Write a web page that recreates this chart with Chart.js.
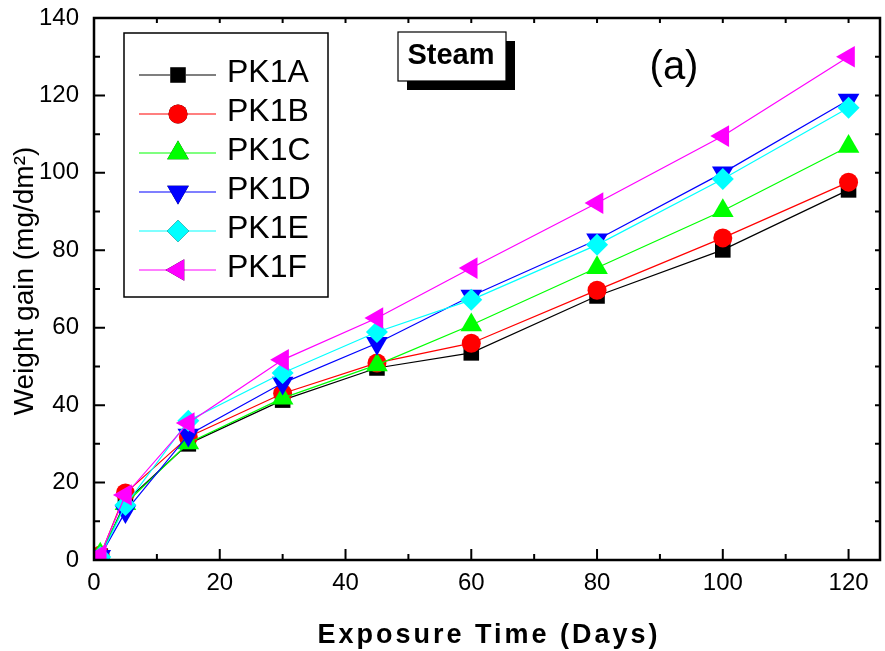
<!DOCTYPE html>
<html>
<head>
<meta charset="utf-8">
<script src="https://cdn.jsdelivr.net/npm/chart.js@4.4.1/dist/chart.umd.min.js"></script>
<style>
  html, body { margin: 0; padding: 0; background: #fff; }
  #wrap { width: 885px; height: 651px; }
</style>
</head>
<body>
<div id="wrap"><canvas id="weightChart" width="885" height="651"></canvas></div>
<script>
// exposure time in days
const days = [1, 5, 15, 30, 45, 60, 80, 100, 120];

// weight gain (mg/dm2) per sample
const pk1a = [1.0, 15.0, 30.0, 41.3, 49.6, 53.5, 68.2, 80.1, 95.6];
const pk1b = [1.2, 17.3, 31.8, 43.0, 50.9, 56.0, 69.7, 83.2, 97.6];
const pk1c = [1.5, 14.5, 30.2, 41.8, 50.4, 60.7, 75.5, 90.2, 106.8];
const pk1d = [1.0, 12.5, 32.3, 45.7, 56.0, 68.2, 82.7, 100.0, 118.8];
const pk1e = [0.8, 14.2, 36.0, 48.3, 58.9, 67.2, 81.4, 98.4, 116.8];
const pk1f = [1.3, 16.8, 35.4, 51.7, 62.5, 75.4, 92.2, 109.5, 130.0];

const seriesNames = ['PK1A', 'PK1B', 'PK1C', 'PK1D', 'PK1E', 'PK1F'];
const seriesValues = [pk1a, pk1b, pk1c, pk1d, pk1e, pk1f];
const seriesColors = ['#000000', '#ff0000', '#00ff00', '#0000ff', '#00ffff', '#ff00ff'];
const seriesShapes = ['rect', 'circle', 'triangle', 'triangle', 'rectRot', 'triangle'];
const seriesRotation = [0, 0, 0, 180, 0, -90];
const seriesRadius = [11, 9.5, 12.5, 12.5, 11, 12.5];

const xTicks = [0, 20, 40, 60, 80, 100, 120];
const yTicks = [0, 20, 40, 60, 80, 100, 120, 140];

const FONT = "'Liberation Sans', Arial, sans-serif";

const datasets = seriesNames.map((name, i) => ({
    label: name,
    data: days.map((d, j) => ({ x: d, y: seriesValues[i][j] })),
    borderColor: seriesColors[i],
    backgroundColor: seriesColors[i],
    borderWidth: 1.2,
    pointStyle: seriesShapes[i],
    rotation: seriesRotation[i],
    pointRadius: seriesRadius[i],
    pointBorderWidth: 0,
    tension: 0,
    order: 6 - i   // later series drawn on top
}));

// frame with inward ticks (major + minor), legend and labels
const framePlugin = {
    id: 'frame',
    afterDatasetsDraw(chart) {
        const ctx = chart.ctx;
        const a = chart.chartArea;
        const xs = chart.scales.x;
        const ys = chart.scales.y;
        ctx.save();
        ctx.strokeStyle = '#000';
        ctx.lineWidth = 2.5;
        ctx.strokeRect(a.left, a.top, a.right - a.left, a.bottom - a.top);

        ctx.lineWidth = 2;
        ctx.beginPath();
        for (let v = 0; v <= 120; v += 10) {
            const px = xs.getPixelForValue(v);
            const len = v % 20 === 0 ? 11 : 6;
            ctx.moveTo(px, a.bottom);
            ctx.lineTo(px, a.bottom - len);
            if (v > 0) {
                ctx.moveTo(px, a.top);
                ctx.lineTo(px, a.top + 5);
            }
        }
        for (let v = 0; v <= 140; v += 10) {
            const py = ys.getPixelForValue(v);
            const len = v % 20 === 0 ? 11 : 6;
            ctx.moveTo(a.left, py);
            ctx.lineTo(a.left + len, py);
            if (v > 0 && v < 140) {
                ctx.moveTo(a.right, py);
                ctx.lineTo(a.right - 5, py);
            }
        }
        ctx.stroke();
        ctx.restore();
    },
    afterDraw(chart) {
        const ctx = chart.ctx;
        ctx.save();

        // legend box
        const bx = 124, by = 33, bw = 204, bh = 264;
        ctx.fillStyle = '#fff';
        ctx.fillRect(bx, by, bw, bh);
        ctx.strokeStyle = '#000';
        ctx.lineWidth = 1.5;
        ctx.strokeRect(bx, by, bw, bh);

        chart.data.datasets.forEach((ds, i) => {
            const y = 75 + i * 39;
            ctx.strokeStyle = ds.borderColor;
            ctx.lineWidth = 1.2;
            ctx.beginPath();
            ctx.moveTo(139, y);
            ctx.lineTo(216, y);
            ctx.stroke();
            Chart.helpers.drawPoint(ctx, {
                pointStyle: ds.pointStyle,
                rotation: ds.rotation,
                radius: ds.pointRadius,
                borderWidth: 0
            }, 178, y);
            ctx.fillStyle = ds.backgroundColor;
            ctx.fill();
            ctx.fillStyle = '#000';
            ctx.font = '32px ' + FONT;
            ctx.textAlign = 'left';
            ctx.textBaseline = 'middle';
            ctx.fillText(ds.label, 227, y - 2);
        });

        // "Steam" label with drop shadow
        ctx.fillStyle = '#000';
        ctx.fillRect(407, 41, 108, 49);
        ctx.fillStyle = '#fff';
        ctx.fillRect(398, 32, 108, 49);
        ctx.strokeStyle = '#000';
        ctx.lineWidth = 1.2;
        ctx.strokeRect(398, 32, 108, 49);
        ctx.fillStyle = '#000';
        ctx.font = 'bold 29px ' + FONT;
        ctx.textAlign = 'center';
        ctx.textBaseline = 'middle';
        ctx.fillText('Steam', 451, 56);

        // panel tag
        ctx.font = '40px ' + FONT;
        ctx.fillText('(a)', 674, 68);

        // y axis title
        ctx.save();
        ctx.translate(33, 281);
        ctx.rotate(-Math.PI / 2);
        ctx.font = '28px ' + FONT;
        ctx.textBaseline = 'alphabetic';
        ctx.fillText('Weight gain (mg/dm²)', 0, 0);
        ctx.restore();

        // x axis title, spaced out like the original
        ctx.font = 'bold 27px ' + FONT;
        ctx.letterSpacing = '3px';
        ctx.textBaseline = 'alphabetic';
        ctx.fillText('Exposure Time (Days)', 489, 643);
        ctx.restore();
    }
};

Chart.defaults.color = '#000';
Chart.defaults.font.family = FONT;

const ctx = document.getElementById('weightChart').getContext('2d');
new Chart(ctx, {
    type: 'line',
    data: { datasets: datasets },
    options: {
        responsive: false,
        animation: false,
        layout: { autoPadding: false, padding: { left: 0, top: 18, right: 5, bottom: 0 } },
        plugins: {
            legend: { display: false },
            tooltip: { enabled: false }
        },
        scales: {
            x: {
                type: 'linear',
                min: 0,
                max: 125,
                grid: { display: false, drawTicks: false },
                border: { display: false },
                afterBuildTicks: scale => {
                    scale.ticks = xTicks.map(v => ({ value: v }));
                },
                ticks: {
                    font: { size: 24 },
                    padding: 9,
                    maxRotation: 0
                },
                afterFit: scale => {
                    scale.height = 91;
                    scale.paddingLeft = 0;
                    scale.paddingRight = 0;
                }
            },
            y: {
                min: 0,
                max: 140,
                grid: { display: false, drawTicks: false },
                border: { display: false },
                afterBuildTicks: scale => {
                    scale.ticks = yTicks.map(v => ({ value: v }));
                },
                ticks: {
                    font: { size: 24 },
                    padding: 15
                },
                afterFit: scale => {
                    scale.width = 94;
                    scale.paddingTop = 0;
                    scale.paddingBottom = 0;
                }
            }
        }
    },
    plugins: [framePlugin]
});
</script>
</body>
</html>
